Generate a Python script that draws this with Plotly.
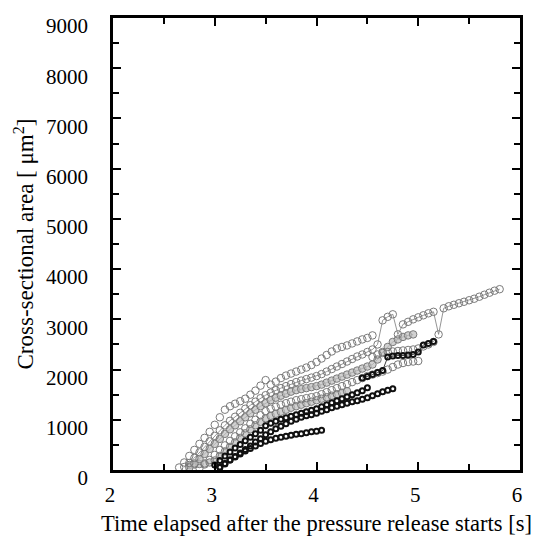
import plotly.graph_objects as go

# ---------------- data ----------------
OA_t = [2.65, 2.70, 2.75, 2.80, 2.85, 2.90, 2.95, 3.00, 3.05, 3.10, 3.15, 3.20, 3.25, 3.30, 3.35, 3.40,
        3.45, 3.50, 3.55, 3.60, 3.65, 3.70, 3.75, 3.80, 3.85, 3.90, 3.95, 4.00, 4.05, 4.10, 4.15, 4.20,
        4.25, 4.30, 4.35, 4.40, 4.45, 4.50, 4.55]
OA_y = [50, 150, 280, 400, 520, 640, 760, 900, 1050, 1200, 1270, 1320, 1370, 1420, 1500, 1580,
        1680, 1790, 1700, 1760, 1830, 1880, 1920, 1960, 2000, 2040, 2090, 2150, 2220, 2290, 2360, 2420,
        2450, 2480, 2520, 2560, 2600, 2630, 2680]

OC_t = [2.70, 2.75, 2.80, 2.85, 2.90, 2.95, 3.00, 3.05, 3.10, 3.15, 3.20, 3.25, 3.30, 3.35, 3.40, 3.45,
        3.50, 3.55, 3.60, 3.65, 3.70, 3.75, 3.80, 3.85, 3.90, 3.95, 4.00, 4.05, 4.10, 4.15, 4.20, 4.25,
        4.30, 4.35, 4.40, 4.45, 4.50, 4.55, 4.60, 4.65, 4.70, 4.75, 4.80, 4.85, 4.90, 4.95, 5.00, 5.05,
        5.10, 5.15, 5.20, 5.25, 5.30, 5.35, 5.40, 5.45, 5.50, 5.55, 5.60, 5.65, 5.70, 5.75, 5.80]
OC_y = [60, 140, 240, 350, 460, 570, 680, 790, 890, 980, 1060, 1140, 1220, 1290, 1360, 1430,
        1490, 1540, 1590, 1630, 1670, 1710, 1750, 1780, 1810, 1840, 1870, 1910, 1960, 2010, 2060, 2110,
        2160, 2210, 2260, 2300, 2350, 2400, 2500, 2980, 3050, 3100, 2700, 2900, 2950, 3000, 3040, 3080,
        3120, 3150, 2700, 3220, 3260, 3290, 3320, 3350, 3380, 3410, 3450, 3490, 3530, 3570, 3600]

OD_t = [2.75, 2.80, 2.85, 2.90, 2.95, 3.00, 3.05, 3.10, 3.15, 3.20, 3.25, 3.30, 3.35, 3.40, 3.45, 3.50,
        3.55, 3.60, 3.65, 3.70, 3.75, 3.80, 3.85, 3.90, 3.95, 4.00, 4.05, 4.10, 4.15, 4.20, 4.25, 4.30,
        4.35, 4.40, 4.45, 4.50, 4.55, 4.60, 4.65, 4.70, 4.75, 4.80, 4.85, 4.90, 4.95]
OD_y = [50, 130, 220, 320, 420, 520, 620, 720, 810, 890, 970, 1050, 1130, 1200, 1270, 1330,
        1390, 1440, 1480, 1520, 1560, 1590, 1610, 1630, 1650, 1670, 1700, 1740, 1780, 1820, 1860, 1900,
        1940, 1980, 2020, 2060, 2100, 2200, 2350, 2450, 2550, 2600, 2650, 2680, 2700]

OE_t = [2.85, 2.90, 2.95, 3.00, 3.05, 3.10, 3.15, 3.20, 3.25, 3.30, 3.35, 3.40, 3.45, 3.50, 3.55, 3.60,
        3.65, 3.70, 3.75, 3.80, 3.85, 3.90, 3.95, 4.00, 4.05, 4.10, 4.15, 4.20, 4.25, 4.30, 4.35, 4.40,
        4.45, 4.50, 4.55, 4.60, 4.65, 4.70, 4.75, 4.80, 4.85, 4.90, 4.95, 5.00]
OE_y = [40, 110, 200, 300, 400, 490, 580, 670, 750, 830, 920, 1000, 1090, 1170, 1220, 1260,
        1300, 1330, 1360, 1390, 1410, 1430, 1450, 1470, 1510, 1550, 1590, 1630, 1670, 1710, 1750, 1790,
        1830, 1870, 1900, 1930, 1960, 2000, 2050, 2100, 2130, 2150, 2160, 2170]

OF_t = [2.75, 2.80, 2.85, 2.90, 2.95, 3.00, 3.05, 3.10, 3.15, 3.20, 3.25, 3.30, 3.35, 3.40, 3.45, 3.50,
        3.55, 3.60, 3.65, 3.70, 3.75, 3.80, 3.85, 3.90, 3.95, 4.00, 4.05, 4.10, 4.15, 4.20, 4.25, 4.30]
OF_y = [100, 110, 120, 130, 150, 190, 280, 370, 460, 550, 640, 730, 810, 890, 960, 1030,
        1080, 1120, 1160, 1200, 1240, 1270, 1300, 1330, 1360, 1390, 1420, 1450, 1480, 1510, 1540, 1570]

OG_t = [4.55, 4.60, 4.65, 4.70, 4.75, 4.80, 4.85, 4.90, 4.95, 5.00, 5.05, 5.10, 5.15]
OG_y = [2250, 2300, 2330, 2350, 2360, 2370, 2380, 2390, 2400, 2420, 2460, 2500, 2550]

BA_t = [3.05, 3.10, 3.15, 3.20, 3.25, 3.30, 3.35, 3.40, 3.45, 3.50, 3.55, 3.60, 3.65, 3.70, 3.75, 3.80,
        3.85, 3.90, 3.95, 4.00, 4.05]
BA_y = [60, 130, 200, 260, 320, 380, 430, 480, 530, 570, 600, 630, 650, 670, 690, 710,
        720, 740, 760, 770, 790]

BB_t = [3.00, 3.05, 3.10, 3.15, 3.20, 3.25, 3.30, 3.35, 3.40, 3.45, 3.50, 3.55, 3.60, 3.65, 3.70, 3.75,
        3.80, 3.85, 3.90, 3.95, 4.00, 4.05, 4.10, 4.15, 4.20, 4.25, 4.30, 4.35, 4.40, 4.45, 4.50]
BB_y = [100, 190, 280, 360, 440, 510, 580, 650, 720, 790, 880, 930, 970, 1010, 1040, 1070,
        1100, 1130, 1160, 1190, 1220, 1260, 1300, 1340, 1380, 1420, 1460, 1500, 1540, 1580, 1640]

BC_t = [3.05, 3.10, 3.15, 3.20, 3.25, 3.30, 3.35, 3.40, 3.45, 3.50, 3.55, 3.60, 3.65, 3.70, 3.75, 3.80,
        3.85, 3.90, 3.95, 4.00, 4.05, 4.10, 4.15, 4.20, 4.25, 4.30, 4.35, 4.40, 4.45, 4.50, 4.55, 4.60,
        4.65, 4.70, 4.75]
BC_y = [50, 120, 200, 270, 340, 410, 480, 560, 620, 700, 760, 820, 870, 920, 970, 1010,
        1050, 1080, 1100, 1130, 1170, 1200, 1240, 1270, 1300, 1330, 1360, 1380, 1410, 1440, 1480, 1520,
        1560, 1590, 1620]

BD_t = [4.45, 4.50, 4.55, 4.60, 4.65, 4.70, 4.75, 4.80, 4.85, 4.90, 4.95, 5.00, 5.05, 5.10, 5.15]
BD_y = [1830, 1860, 1900, 1940, 1980, 2250, 2270, 2280, 2280, 2290, 2300, 2350, 2490, 2520, 2560]

X_TICKS = [2, 3, 4, 5, 6]
Y_TICKS = [0, 1000, 2000, 3000, 4000, 5000, 6000, 7000, 8000, 9000]

# ---------------- figure ----------------
fig = go.Figure()

GRAY = "#7a7a7a"
open_style = dict(symbol="circle-open", size=7.5, color=GRAY, line=dict(width=1, color=GRAY))
fill_style = dict(symbol="circle", size=7.5, color="rgba(190,190,190,0.7)", line=dict(width=1, color=GRAY))
black_style = dict(symbol="circle-open", size=5, color="#111", line=dict(width=2, color="#111"))

def add(t, y, marker, line_color=None):
    fig.add_trace(go.Scatter(
        x=t, y=y, mode="lines+markers" if line_color else "markers",
        marker=marker,
        line=dict(color=line_color or GRAY, width=0.8),
        hoverinfo="skip", cliponaxis=False,
    ))

add(OF_t, OF_y, fill_style)
add(OE_t, OE_y, open_style)
add(OD_t, OD_y, fill_style, GRAY)
add(OG_t, OG_y, open_style)
add(OC_t, OC_y, open_style, GRAY)
add(OA_t, OA_y, open_style)
add(BA_t, BA_y, black_style)
add(BB_t, BB_y, black_style)
add(BC_t, BC_y, black_style)
add(BD_t, BD_y, black_style, "#111")

FONT = "Liberation Serif"
axis_common = dict(
    showline=True, linewidth=2.5, linecolor="#000000", mirror="ticks",
    ticks="inside", ticklen=8, tickwidth=2, tickcolor="#000000",
    showgrid=False, zeroline=False, layer="above traces",
    ticklabeloverflow="allow",
    tickfont=dict(family=FONT, size=21, color="black"),
)

fig.update_xaxes(
    range=[2, 6], tickvals=X_TICKS, ticktext=[str(v) for v in X_TICKS],
    minor=dict(dtick=0.5, ticks="inside", ticklen=6, tickwidth=2, tickcolor="#000000", showgrid=False),
    title=dict(text="Time elapsed after the pressure release starts [s]",
               font=dict(family=FONT, size=22.5, color="black"), standoff=10),
    ticklabelstandoff=4, ticklabelshift=-3,
    **axis_common,
)
fig.update_yaxes(
    range=[0, 9000], tickvals=Y_TICKS, ticktext=[str(v) for v in Y_TICKS],
    minor=dict(dtick=500, ticks="inside", ticklen=6, tickwidth=2, tickcolor="#000000", showgrid=False),
    title=dict(text="Cross-sectional area [ μm<sup>2</sup>]",
               font=dict(family=FONT, size=23, color="black"), standoff=6),
    ticklabelstandoff=18, ticklabelshift=8,
    **axis_common,
)

# the page body carries an 8px default margin, so the figure is sized to fit the 539x542 window
fig.update_layout(
    width=531, height=534,
    margin=dict(l=105, r=19, t=10, b=72, autoexpand=False),
    plot_bgcolor="white", paper_bgcolor="white",
    showlegend=False,
    font=dict(family=FONT, color="black"),
)

fig.write_html("out.html")
